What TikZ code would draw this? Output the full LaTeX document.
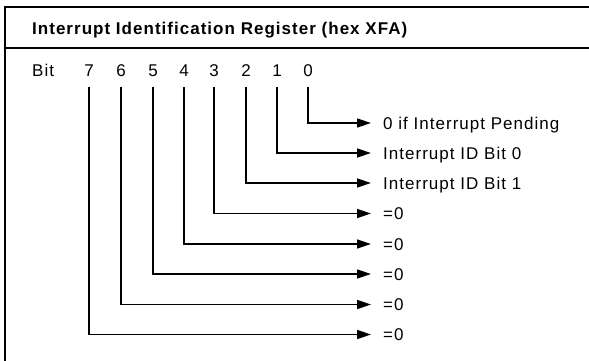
\documentclass[tikz,border=0pt]{standalone}
\usepackage{fontspec}
\setmainfont{Liberation Sans}[LetterSpace=6]
\usetikzlibrary{arrows.meta}
\begin{document}
\begin{tikzpicture}[x=1pt,y=-1pt,
  frame/.style={line width=1.6pt},
  wire/.style={line width=1.6pt, -{Triangle[length=14pt,width=9pt]}},
  bitnum/.style={font=\fontsize{17}{20}\selectfont, inner sep=0pt, text height=12pt, text depth=0pt},
  outlabel/.style={font=\fontsize{17}{20}\selectfont, anchor=west, inner sep=0pt, text height=12pt, text depth=0pt},
  title/.style={font=\fontsize{17}{20}\selectfont\bfseries, anchor=west, inner sep=0pt, text height=12pt, text depth=0pt}]
\useasboundingbox (0,0) rectangle (589,361);
% register frame: top rule, left rule, header rule
\draw[frame] (589,7) -- (5,7) -- (5,361);
\draw[frame] (5,48) -- (589,48);
\node[title] (hdr) at (32,28.5) {Interrupt Identification Register (hex XFA)};
\node[bitnum, anchor=west] (bit) at (32,71) {Bit};
% bit numbers and where their leads start
\foreach \b/\x in {7/89,6/121,5/153,4/184,3/214,2/246,1/277,0/308}{
  \node[bitnum] (b\b) at (\x,71) {\b};
  \coordinate (s\b) at (\x,87);
}
% meaning of each bit
\node[outlabel] (l0) at (383,123) {0 if Interrupt Pending};
\node[outlabel] (l1) at (383,153) {Interrupt ID Bit 0};
\node[outlabel] (l2) at (383,183) {Interrupt ID Bit 1};
\node[outlabel] (l3) at (383,213.5) {=0};
\node[outlabel] (l4) at (383,244) {=0};
\node[outlabel] (l5) at (383,274) {=0};
\node[outlabel] (l6) at (383,304.5) {=0};
\node[outlabel] (l7) at (383,334.5) {=0};
\foreach \b in {0,...,7}{
  \draw[wire] (s\b) |- ([xshift=-12pt]l\b.west);
}
\end{tikzpicture}
\end{document}
